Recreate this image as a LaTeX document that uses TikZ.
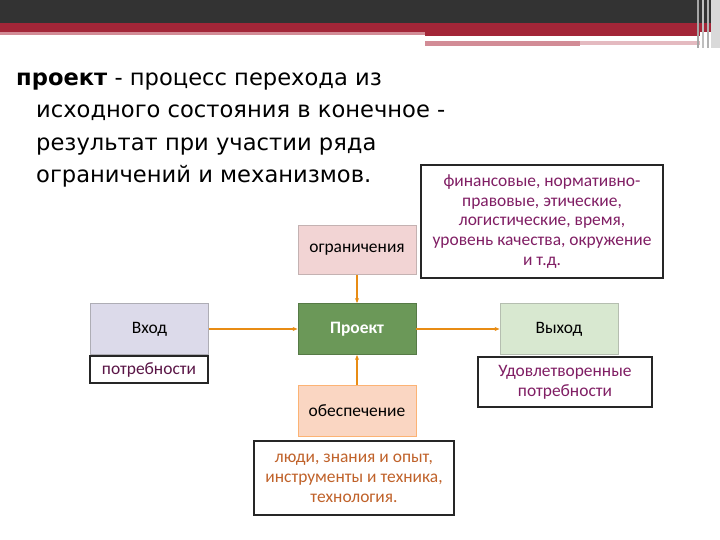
\documentclass[tikz,border=0pt]{standalone}
\usepackage{fontspec}
\setmainfont{DejaVu Sans}
\newfontfamily\boxfont{Carlito}
\usetikzlibrary{arrows.meta}
\definecolor{barcolor}{RGB}{51,51,51}
\definecolor{bandcolor}{RGB}{163,38,56}
\definecolor{bandlight}{RGB}{210,140,150}
\definecolor{linkcolor}{RGB}{232,140,20}
\definecolor{notecolor}{RGB}{128,30,100}
\definecolor{toolcolor}{RGB}{192,98,42}
\definecolor{projcolor}{RGB}{107,152,88}
\definecolor{limitcolor}{RGB}{242,212,212}
\definecolor{incolor}{RGB}{220,218,234}
\definecolor{outcolor}{RGB}{216,232,208}
\definecolor{supcolor}{RGB}{250,214,194}
\tikzset{
    basebox/.style={rectangle,
        line width=0.8bp,
        font=\boxfont\fontsize{17.5}{20}\selectfont,
        inner sep=0pt,
        minimum width=118bp,
        minimum height=51bp},
    projbox/.style={basebox, draw=projcolor!80!black, fill=projcolor, text=white, font=\boxfont\fontsize{17.5}{20}\selectfont\bfseries},
    limitbox/.style={basebox, draw=limitcolor!60!gray, fill=limitcolor},
    inbox/.style={basebox, draw=incolor!50!gray, fill=incolor},
    outbox/.style={basebox, draw=outcolor!60!gray, fill=outcolor},
    supbox/.style={basebox, draw=supcolor!60!orange, fill=supcolor},
    notebox/.style={rectangle, draw=black!85, line width=1.6bp, fill=white,
        font=\boxfont\fontsize{17.5}{20}\selectfont, align=center, inner sep=0pt},
    link/.style={-{Stealth[length=5bp,width=4bp]}, line width=2bp, linkcolor},
    headline/.style={anchor=base west, inner sep=0pt, font=\fontsize{22.7}{26}\selectfont}
}

\begin{document}
\begin{tikzpicture}[x=1bp, y=-1bp]
\useasboundingbox (0,0) rectangle (720,540);

% Header bar
\fill[barcolor] (0,0) rectangle (720,23);
\fill[bandcolor] (0,23) rectangle (720,32);
\fill[bandlight] (0,32) rectangle (425,35);
\fill[bandcolor] (425,32) rectangle (700,36);
\fill[bandlight] (425,41) rectangle (580,46);
\fill[bandlight!60] (580,41) rectangle (700,45);
\fill[gray!70] (697,0) rectangle (699,48);
\fill[gray!50] (702,0) rectangle (704,48);
\fill[gray!60] (707,0) rectangle (709,48);
\fill[gray!30] (711,0) rectangle (720,48);

% Definition
\node[headline] (def1) at (16,86) {\textbf{проект} - процесс перехода из};
\node[headline] (def2) at (36,118) {исходного состояния в конечное -};
\node[headline] (def3) at (36,151) {результат при участии ряда};
\node[headline] (def4) at (36,183) {ограничений и механизмов.};

% Main row
\node[inbox] (input) at (149.5,329) {Вход};
\node[projbox] (project) at (357,329) {Проект};
\node[outbox] (output) at (559,329) {Выход};

% Above and below
\node[limitbox, minimum height=49bp] (limits) at (357,250) {ограничения};
\node[supbox] (support) at (357,411) {обеспечение};

% Notes
\node[notebox, minimum width=242bp, minimum height=113bp, text=notecolor] (limitnote) at (542,221.5)
    {финансовые, нормативно-\\правовые, этические,\\логистические, время,\\уровень качества, окружение\\и т.д.};
\node[notebox, minimum width=118bp, minimum height=27bp, text=notecolor!70!black] (needs) at (149,369.5) {потребности};
\node[notebox, minimum width=174bp, minimum height=50bp, text=notecolor] (result) at (565,382)
    {Удовлетворенные\\потребности};
\node[notebox, minimum width=200bp, minimum height=74bp, text=toolcolor] (tools) at (354,478)
    {люди, знания и опыт,\\инструменты и техника,\\технология.};

\draw[link] (input)--(project);
\draw[link] (project)--(output);
\draw[link] (limits)--(project);
\draw[link] (support)--(project);

\end{tikzpicture}
\end{document}
